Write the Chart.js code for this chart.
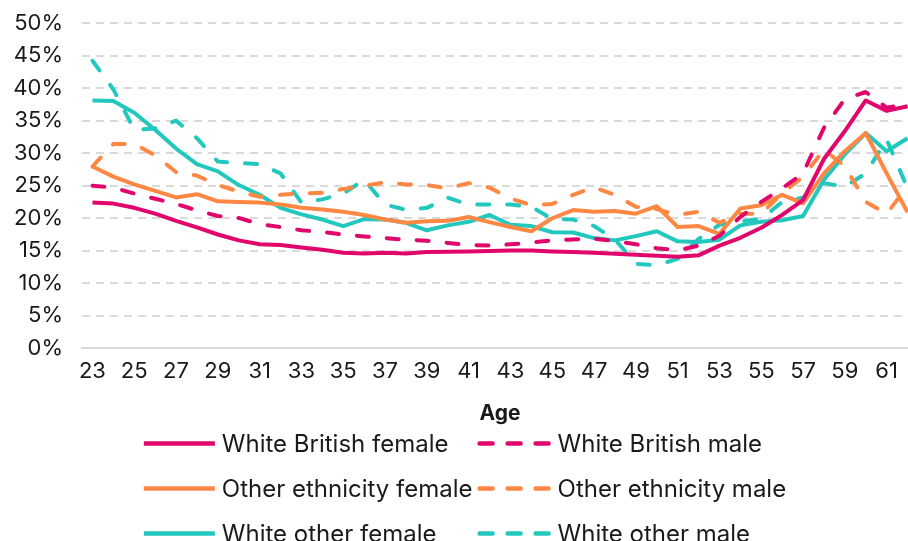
<!DOCTYPE html>
<html>
<head>
<meta charset="utf-8">
<script src="https://cdn.jsdelivr.net/npm/chart.js@4.4.1/dist/chart.umd.min.js"></script>
<style>
  html, body { margin: 0; padding: 0; overflow: hidden; background: #fff; }
  #wrap { width: 930px; height: 541px; position: relative; }
</style>
</head>
<body>
<div id="wrap"><canvas id="ageChart"></canvas></div>
<script>
// Вік (категорії осі X)
var ages = [23, 24, 25, 26, 27, 28, 29, 30, 31, 32, 33, 34, 35, 36, 37, 38, 39, 40, 41, 42,
            43, 44, 45, 46, 47, 48, 49, 50, 51, 52, 53, 54, 55, 56, 57, 58, 59, 60, 61, 62];

// Значення серій, у відсотках
var whiteBritishFemale = [22.4, 22.25, 21.6, 20.7, 19.6, 18.6, 17.5, 16.6, 16.0, 15.9,
  15.5, 15.15, 14.7, 14.6, 14.7, 14.6, 14.8, 14.85, 14.9, 14.95,
  15.05, 15.05, 14.9, 14.8, 14.7, 14.55, 14.4, 14.25, 14.1, 14.3,
  15.8, 17.0, 18.55, 20.5, 22.8, 29.1, 33.4, 38.1, 36.5, 37.2];
var whiteBritishMale = [25.0, 24.7, 23.8, 23.0, 22.2, 21.2, 20.35, 20.05, 19.1, 18.65,
  18.15, 17.9, 17.5, 17.2, 16.95, 16.7, 16.55, 16.2, 15.9, 15.8,
  16.0, 16.25, 16.6, 16.75, 16.85, 16.5, 16.0, 15.4, 15.05, 15.8,
  17.3, 20.2, 22.5, 24.6, 26.9, 33.9, 38.3, 39.4, 37.0, 37.5];
var otherEthnicityFemale = [27.95, 26.4, 25.2, 24.2, 23.2, 23.7, 22.6, 22.5, 22.4, 22.1,
  21.6, 21.35, 21.0, 20.5, 19.8, 19.3, 19.55, 19.6, 20.2, 19.4,
  18.65, 18.0, 20.0, 21.25, 21.0, 21.1, 20.7, 21.85, 18.65, 18.8,
  17.6, 21.5, 22.0, 23.6, 22.3, 26.9, 30.3, 33.1, 26.9, 20.9];
var otherEthnicityMale = [27.95, 31.4, 31.4, 29.65, 27.1, 26.55, 25.1, 24.1, 23.3, 23.6,
  23.8, 23.9, 24.5, 25.0, 25.5, 25.2, 25.1, 24.6, 25.4, 24.7,
  23.05, 22.0, 22.2, 23.6, 24.75, 23.6, 21.75, 21.4, 20.5, 21.0,
  19.3, 20.7, 20.7, 23.8, 26.4, 30.5, 28.0, 22.5, 20.7, 24.9];
var whiteOtherFemale = [38.1, 38.0, 36.2, 33.6, 30.7, 28.3, 27.2, 25.1, 23.6, 21.6,
  20.6, 19.8, 18.8, 19.85, 19.8, 19.3, 18.15, 18.9, 19.45, 20.5,
  19.0, 18.8, 17.85, 17.8, 16.95, 16.6, 17.25, 18.0, 16.45, 16.35,
  16.7, 18.9, 19.45, 19.7, 20.35, 25.9, 29.8, 33.1, 30.3, 32.3];
var whiteOtherMale = [44.2, 39.8, 33.6, 33.8, 35.0, 32.3, 28.7, 28.5, 28.3, 26.9,
  22.4, 22.9, 23.8, 25.9, 22.1, 21.3, 21.6, 23.15, 22.1, 22.1,
  22.1, 21.75, 19.9, 19.8, 18.8, 16.75, 13.0, 12.8, 13.75, 16.8,
  19.0, 19.5, 19.9, 22.5, 23.15, 25.4, 24.85, 26.9, 32.1, 24.6];

// Підписи осі Y
var yTicks = ['0%', '5%', '10%', '15%', '20%', '25%', '30%', '35%', '40%', '45%', '50%'];

var MAGENTA = '#E0066C';
var ORANGE = '#FF8744';
var TEAL = '#22C8BD';
var FONT = 'Inter, "Liberation Sans", sans-serif';

function lineSet(label, values, color, dashed) {
  return {
    label: label,
    data: values,
    borderColor: color,
    backgroundColor: color,
    borderWidth: 4,
    borderDash: dashed ? [12, 18] : [],
    borderCapStyle: dashed ? 'round' : 'butt',
    borderJoinStyle: 'round',
    pointRadius: 0,
    pointHoverRadius: 0,
    tension: 0,
    fill: false
  };
}

// Легенда у дві колонки
var gridLegend = {
  id: 'gridLegend',
  afterDraw: function(chart) {
    var ctx = chart.ctx;
    var sets = chart.data.datasets;
    var sample = 71, gapText = 7, colGap = 7, rowStep = 45;
    ctx.save();
    ctx.font = '24px ' + FONT;
    var colW = [0, 0];
    sets.forEach(function(ds, i) {
      var w = sample + gapText + ctx.measureText(ds.label).width;
      colW[i % 2] = Math.max(colW[i % 2], w);
    });
    var startX = (chart.width - (colW[0] + colGap + colW[1])) / 2;
    var top = chart.chartArea.bottom + 96;
    sets.forEach(function(ds, i) {
      var x = startX + (i % 2 ? colW[0] + colGap : 0);
      var y = top + Math.floor(i / 2) * rowStep;
      ctx.beginPath();
      ctx.strokeStyle = ds.borderColor;
      ctx.lineWidth = 4.5;
      if (ds.borderDash.length) {
        ctx.setLineDash([13, 15]);
        ctx.lineCap = 'round';
      } else {
        ctx.setLineDash([]);
        ctx.lineCap = 'butt';
      }
      ctx.moveTo(x, y - 1);
      ctx.lineTo(x + sample, y - 1);
      ctx.stroke();
      ctx.fillStyle = '#1a1a1a';
      ctx.textBaseline = 'middle';
      ctx.textAlign = 'left';
      ctx.fillText(ds.label, x + sample + gapText, y);
    });
    ctx.restore();
  }
};

var ctx = document.getElementById('ageChart').getContext('2d');

var ageChart = new Chart(ctx, {
  type: 'line',
  data: {
    labels: ages,
    datasets: [
      lineSet('White British female', whiteBritishFemale, MAGENTA, false),
      lineSet('White British male', whiteBritishMale, MAGENTA, true),
      lineSet('Other ethnicity female', otherEthnicityFemale, ORANGE, false),
      lineSet('Other ethnicity male', otherEthnicityMale, ORANGE, true),
      lineSet('White other female', whiteOtherFemale, TEAL, false),
      lineSet('White other male', whiteOtherMale, TEAL, true)
    ]
  },
  options: {
    responsive: true,
    maintainAspectRatio: false,
    animation: false,
    layout: { padding: { top: 23, right: 12, left: 0, bottom: 115 } },
    plugins: {
      legend: { display: false },
      tooltip: { enabled: false }
    },
    scales: {
      x: {
        type: 'category',
        offset: true,
        grid: { display: false, drawTicks: false },
        border: { display: true, color: '#d9d9d9', width: 2 },
        ticks: {
          autoSkip: false,
          maxRotation: 0,
          padding: 10,
          color: '#1a1a1a',
          font: { family: FONT, size: 22 },
          callback: function(val, index) {
            return index % 2 === 0 ? ages[index] : '';
          }
        },
        title: {
          display: true,
          text: 'Age',
          color: '#1a1a1a',
          font: { family: FONT, size: 21, weight: 'bold' },
          padding: { top: 6, bottom: 0 }
        }
      },
      y: {
        min: 0,
        max: 50,
        grid: { color: '#d9d9d9', lineWidth: 2, drawTicks: false },
        border: { display: false, dash: [8, 6] },
        afterFit: function(scale) {
          scale.width = 82;
          scale.paddingTop = 0;
          scale.paddingBottom = 0;
        },
        ticks: {
          stepSize: 5,
          padding: 19,
          color: '#1a1a1a',
          font: { family: FONT, size: 22 },
          callback: function(val) {
            return yTicks[Math.round(val / 5)];
          }
        }
      }
    }
  },
  plugins: [gridLegend]
});
</script>
</body>
</html>
